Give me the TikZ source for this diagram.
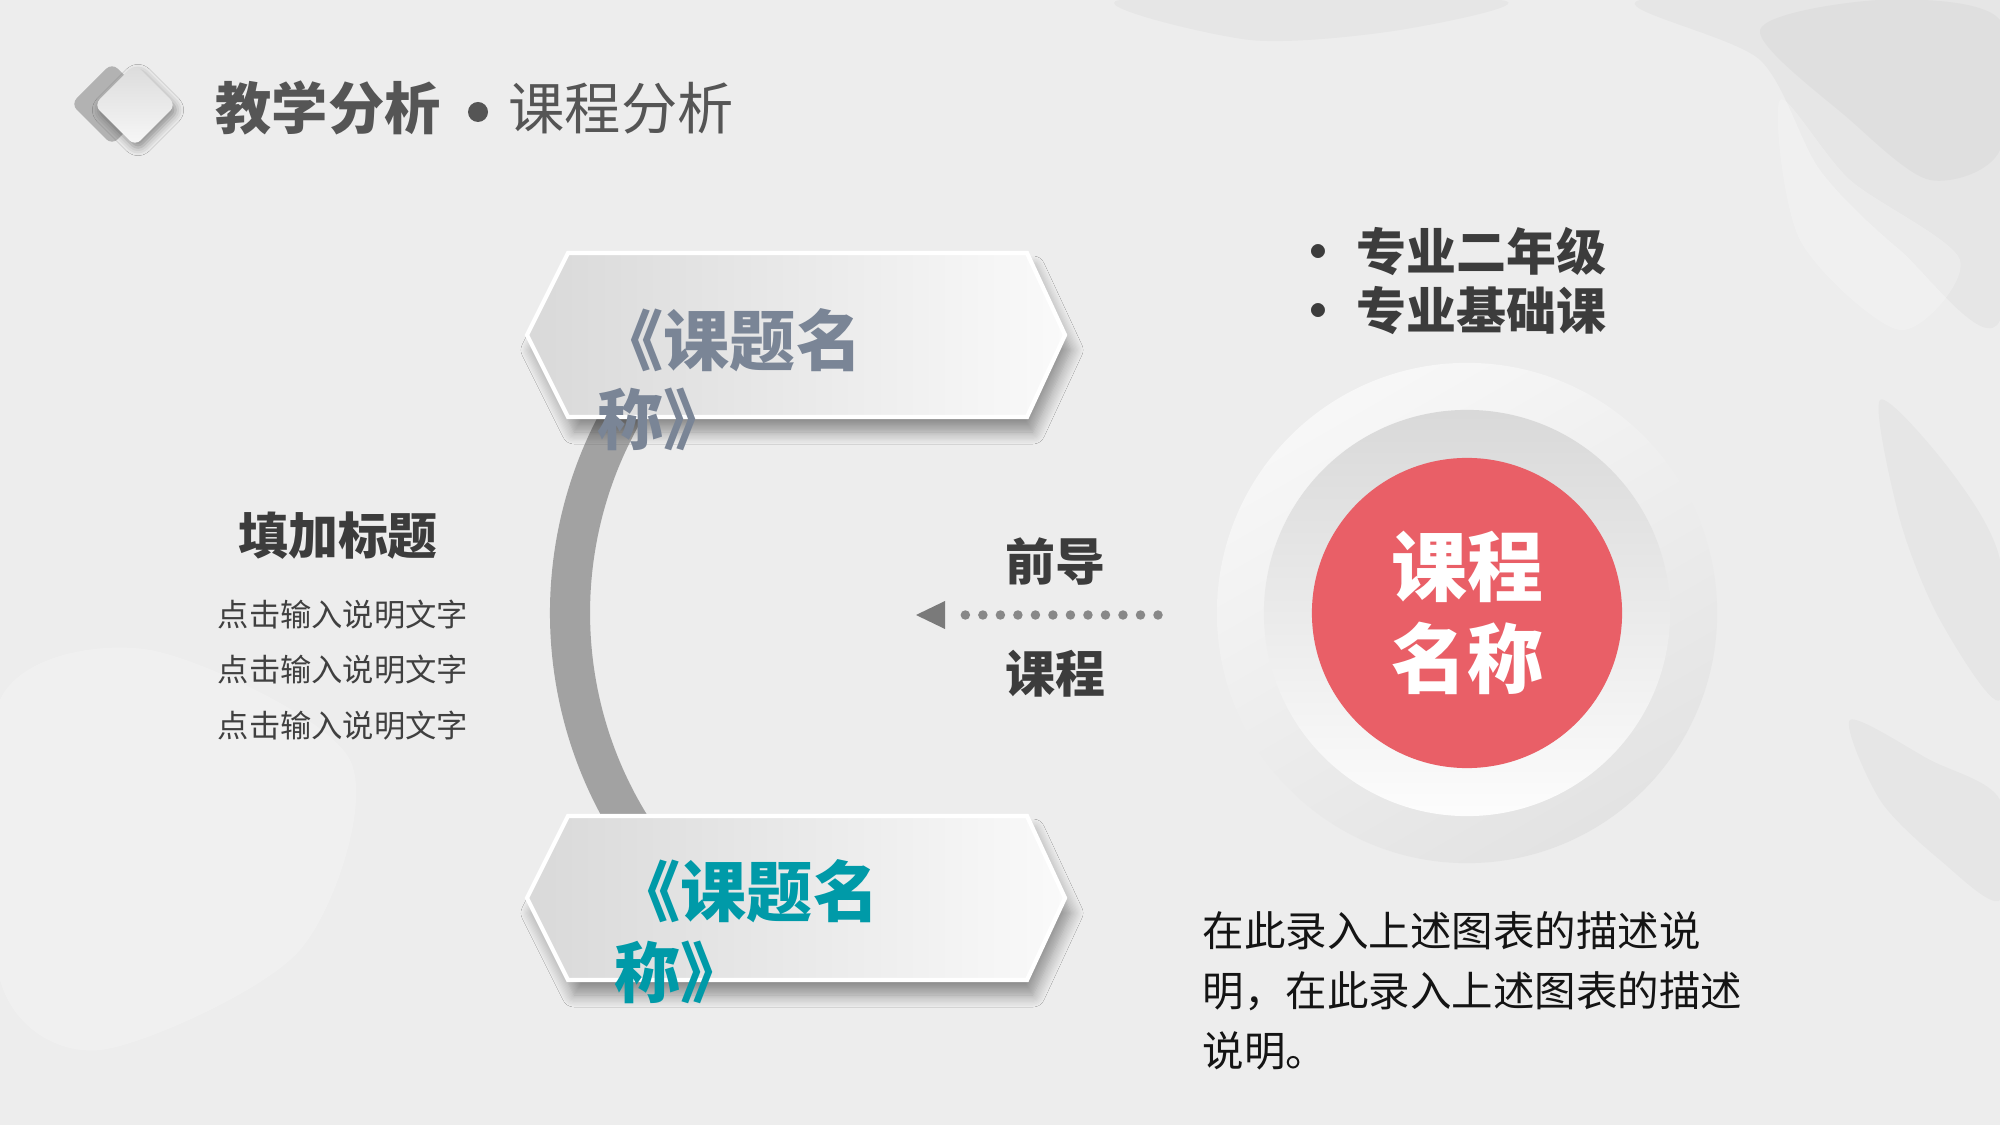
\documentclass[tikz,border=0pt]{standalone}
\usepackage{fontspec}
\setmainfont{Noto Sans CJK SC}
\usetikzlibrary{shadows.blur,calc}
\definecolor{bg}{HTML}{EDEDED}
\definecolor{titlegray}{HTML}{555555}
\definecolor{darktext}{HTML}{3C3C3C}
\definecolor{slate}{HTML}{7A8596}
\definecolor{teal}{HTML}{009AA8}
\definecolor{coral}{HTML}{E95F67}
\definecolor{arcgray}{HTML}{A2A2A2}
\definecolor{dotgray}{HTML}{888888}
\tikzset{
  hexstyle/.style={draw=white, line width=1.2pt, left color=black!15, right color=black!2,
    blur shadow={shadow xshift=0.06cm, shadow yshift=-0.15cm, shadow blur radius=0.12cm, shadow blur steps=10, shadow opacity=40}},
  hextext/.style={anchor=west, inner sep=0pt, align=left, font=\bfseries\fontsize{18.8pt}{22.5pt}\selectfont},
  headtext/.style={inner sep=0pt, text=darktext, font=\bfseries\fontsize{14.2pt}{16.8pt}\selectfont},
  smalltext/.style={inner sep=0pt, align=left, text=black!75, font=\fontsize{8.9pt}{15.8pt}\selectfont},
  bodytext/.style={inner sep=0pt, align=left, text=black!92, font=\fontsize{11.8pt}{17.1pt}\selectfont},
  dotline/.style={dotgray, line width=2.7pt, line cap=round, dash pattern=on 0pt off 4.98pt},
  blob/.style={fill=black!45, opacity=0.07},
  whiteblob/.style={fill=white, opacity=0.22}
}
\begin{document}
\begin{tikzpicture}[x=0.01cm,y=-0.01cm]
\useasboundingbox (0,0) rectangle (2000,1125);
\fill[bg] (0,0) rectangle (2000,1125);
% background texture
\fill[blob] plot[smooth cycle] coordinates {(1640,0) (1760,60) (1820,170) (1900,250) (2000,320) (2000,0)};
\fill[blob] plot[smooth cycle] coordinates {(1760,30) (1850,120) (1930,180) (2000,150) (2000,20) (1880,0)};
\fill[blob] plot[smooth cycle] coordinates {(1880,400) (1950,470) (2000,560) (2000,700) (1940,620) (1900,520)};
\fill[blob] plot[smooth cycle] coordinates {(1850,720) (1930,760) (2000,800) (2000,900) (1940,860) (1880,800)};
\fill[blob] plot[smooth cycle] coordinates {(1120,0) (1250,40) (1400,30) (1500,0)};
\fill[whiteblob] plot[smooth cycle] coordinates {(0,700) (150,650) (350,760) (300,950) (100,1050) (0,980)};
\fill[whiteblob] plot[smooth cycle] coordinates {(1780,100) (1850,180) (1960,260) (1900,330) (1800,240)};

% title
\path[fill=black!30, rounded corners=0.8mm] (71,104) -- (112,63) -- (153,104) -- (112,145) -- cycle;
\path[top color=black!14, bottom color=black!3, rounded corners=0.8mm,
  blur shadow={shadow xshift=0.03cm, shadow yshift=-0.05cm, shadow blur radius=0.08cm, shadow opacity=40}]
  (94,105) -- (135,64) -- (176,105) -- (135,146) -- cycle;
\node[anchor=west, inner sep=0pt, text=titlegray, font=\bfseries\fontsize{16pt}{18pt}\selectfont] (t1) at (215,108) {教学分析};
\fill[titlegray] (478,112) circle[radius=10];
\node[anchor=west, inner sep=0pt, text=titlegray, font=\fontsize{16pt}{18pt}\selectfont] (t2) at (508,108) {课程分析};

% big arc
\coordinate (arcc) at (975,613);
\draw[arcgray, line width=11.4pt] (arcc) ++(135:405) arc[start angle=135, end angle=225, radius=405];

% hexagons
\path[hexstyle] (527,335) -- (568,253) -- (1027,253) -- (1065,335) -- (1027,417) -- (568,417) -- cycle;
\path[hexstyle] (527,898) -- (568,816) -- (1027,816) -- (1065,898) -- (1027,980) -- (568,980) -- cycle;
\node[hextext, text=slate] (h1) at (597,380) {《课题名\\称》};
\node[hextext, text=teal, font=\bfseries\fontsize{18.8pt}{23pt}\selectfont] (h2) at (614,932) {《课题名\\称》};

% left texts
\node[headtext, anchor=center] (lt) at (338,536) {填加标题};
\node[smalltext, anchor=west] (ls) at (217,670) {点击输入说明文字\\点击输入说明文字\\点击输入说明文字};

% arrow
\node[headtext, anchor=center] (pre) at (1055,562) {前导};
\node[headtext, anchor=center] (crs) at (1055,674) {课程};
\coordinate (dotA) at (1158,615);
\coordinate (dotB) at (965,615);
\coordinate (tip) at (916,615);
\draw[dotline] (dotA) -- (dotB);
\fill[black!52] (tip) -- ++(29,-14) -- ++(0,28) -- cycle;

% circles
\node[circle, minimum size=5cm, inner sep=0pt, top color=black!3, bottom color=black!11, shading angle=30] (ringA) at (1467,613) {};
\node[circle, minimum size=4.06cm, inner sep=0pt, top color=black!15, bottom color=black!1] (ringB) at (1467,613) {};
\node[circle, minimum size=3.1cm, inner sep=0pt, fill=coral, text=white, align=center,
  font=\bfseries\fontsize{21.6pt}{26.2pt}\selectfont] (core) at (1467,613) {课程\\名称};

% bullets
\node[headtext, anchor=west, align=left] (bl) at (1318,281)
  {\makebox[0pt][c]{•}\hspace{0.38cm}专业二年级\\\makebox[0pt][c]{•}\hspace{0.38cm}专业基础课};

% description
\node[bodytext, anchor=west] (desc) at (1202,991) {在此录入上述图表的描述说\\明，在此录入上述图表的描述\\说明。};
\end{tikzpicture}
\end{document}
